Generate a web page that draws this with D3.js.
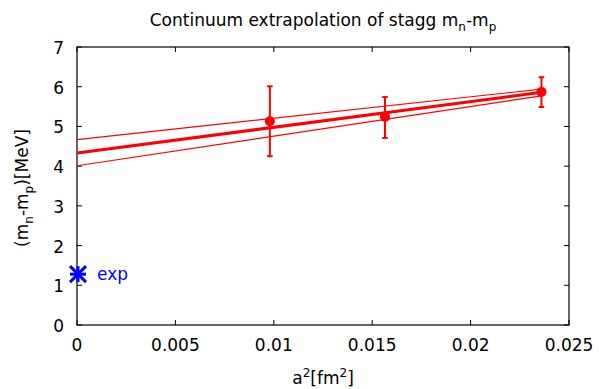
<!DOCTYPE html>
<html>
<head>
<meta charset="utf-8">
<script src="https://cdn.jsdelivr.net/npm/d3@7"></script>
<style>
body{margin:0;background:#fff;}
svg{display:block;font-family:"DejaVu Sans",sans-serif;}
</style>
</head>
<body>
<div id="chart"></div>
<script>
(function(){

const width = 599;
const height = 389;
const margin = {top:47,right:30,bottom:64,left:77};

// lattice points: a^2, value, error low/high
const a2 = [0.0098, 0.01565, 0.0236];
const mval = [5.13, 5.24, 5.87];
const errLo = [4.25, 4.71, 5.49];
const errHi = [6.01, 5.74, 6.24];

// fit line and error band (endpoints)
const fitX = [0, 0.0236];
const fitY = [4.33, 5.86];
const bandUp = [4.67, 5.94];
const bandLo = [4.01, 5.77];

// experimental value
const expX = [0];
const expY = [1.28];

const xTicks = [0, 0.005, 0.01, 0.015, 0.02, 0.025];
const xTickLabels = ["0","0.005","0.01","0.015","0.02","0.025"];
const yTicks = [0,1,2,3,4,5,6,7];

const svg = d3.select("#chart")
.append("svg")
.attr("width",width)
.attr("height",height);

const x = d3.scaleLinear()
.domain([0,0.025])
.range([margin.left,width-margin.right]);

const y = d3.scaleLinear()
.domain([0,7])
.range([height-margin.bottom,margin.top]);

const x0 = margin.left, x1 = width-margin.right;
const y0 = height-margin.bottom, y1 = margin.top;

// ticks (inward, mirrored)
const tl = 5;
const ticks = svg.append("g").attr("stroke","#000").attr("stroke-width",1);
xTicks.forEach(t=>{
ticks.append("line").attr("x1",x(t)).attr("x2",x(t)).attr("y1",y0).attr("y2",y0-tl);
ticks.append("line").attr("x1",x(t)).attr("x2",x(t)).attr("y1",y1).attr("y2",y1+tl);
});
yTicks.forEach(t=>{
ticks.append("line").attr("x1",x0).attr("x2",x0+tl).attr("y1",y(t)).attr("y2",y(t));
ticks.append("line").attr("x1",x1).attr("x2",x1-tl).attr("y1",y(t)).attr("y2",y(t));
});

// tick labels
svg.selectAll(".xl")
.data(xTicks)
.enter()
.append("text")
.attr("x",d=>x(d))
.attr("y",y0+26)
.attr("text-anchor","middle")
.attr("font-size","17px")
.text((d,i)=>xTickLabels[i]);

svg.selectAll(".yl")
.data(yTicks)
.enter()
.append("text")
.attr("x",x0-13)
.attr("y",d=>y(d)+7)
.attr("text-anchor","end")
.attr("font-size","17px")
.text(d=>d);

// border
svg.append("rect")
.attr("x",x0).attr("y",y1)
.attr("width",x1-x0).attr("height",y0-y1)
.attr("fill","none")
.attr("stroke","#000")
.attr("stroke-width",1.2);

const line = d3.line().x(d=>x(d[0])).y(d=>y(d[1]));

// band lines
svg.append("path")
.datum(fitX.map((d,i)=>[d,bandUp[i]]))
.attr("d",line).attr("fill","none").attr("stroke","#ff0000").attr("stroke-width",1.2);
svg.append("path")
.datum(fitX.map((d,i)=>[d,bandLo[i]]))
.attr("d",line).attr("fill","none").attr("stroke","#ff0000").attr("stroke-width",1.2);
// central fit
svg.append("path")
.datum(fitX.map((d,i)=>[d,fitY[i]]))
.attr("d",line).attr("fill","none").attr("stroke","#ff0000").attr("stroke-width",3);

// error bars
const eb = svg.append("g").attr("stroke","#ff0000").attr("stroke-width",2);
a2.forEach((d,i)=>{
eb.append("line").attr("x1",x(d)).attr("x2",x(d)).attr("y1",y(errLo[i])).attr("y2",y(errHi[i]));
eb.append("line").attr("x1",x(d)-2.8).attr("x2",x(d)+2.8).attr("y1",y(errLo[i])).attr("y2",y(errLo[i]));
eb.append("line").attr("x1",x(d)-2.8).attr("x2",x(d)+2.8).attr("y1",y(errHi[i])).attr("y2",y(errHi[i]));
});

svg.selectAll(".pt")
.data(a2)
.enter()
.append("circle")
.attr("cx",d=>x(d))
.attr("cy",(d,i)=>y(mval[i]))
.attr("r",5)
.attr("fill","#ff0000");

// exp star
const s = 8;
expX.forEach((d,i)=>{
const cx = x(d)+1, cy = y(expY[i]);
const g = svg.append("g").attr("stroke","#0000ff").attr("stroke-width",3);
g.append("line").attr("x1",cx-s).attr("x2",cx+s).attr("y1",cy).attr("y2",cy);
g.append("line").attr("x1",cx).attr("x2",cx).attr("y1",cy-s).attr("y2",cy+s);
g.append("line").attr("x1",cx-s).attr("x2",cx+s).attr("y1",cy-s).attr("y2",cy+s);
g.append("line").attr("x1",cx-s).attr("x2",cx+s).attr("y1",cy+s).attr("y2",cy-s);
svg.append("text")
.attr("x",cx+19)
.attr("y",cy+6)
.attr("font-size","17px")
.attr("fill","#0000ff")
.text("exp");
});

// title
const title = svg.append("text")
.attr("x",(x0+x1)/2)
.attr("y",26)
.attr("text-anchor","middle")
.attr("font-size","17px");
title.append("tspan").text("Continuum extrapolation of stagg m");
title.append("tspan").attr("font-size","12px").attr("dy",5).text("n");
title.append("tspan").attr("dy",-5).text("-m");
title.append("tspan").attr("font-size","12px").attr("dy",5).text("p");

// x label
const xl = svg.append("text")
.attr("x",(x0+x1)/2)
.attr("y",height-5)
.attr("text-anchor","middle")
.attr("font-size","17px");
xl.append("tspan").text("a");
xl.append("tspan").attr("font-size","12px").attr("dy",-7).text("2");
xl.append("tspan").attr("dy",7).text("[fm");
xl.append("tspan").attr("font-size","12px").attr("dy",-7).text("2");
xl.append("tspan").attr("dy",7).text("]");

// y label
const yl = svg.append("text")
.attr("transform",`translate(28,${(y0+y1)/2+2}) rotate(-90)`)
.attr("text-anchor","middle")
.attr("font-size","17px");
yl.append("tspan").text("(m");
yl.append("tspan").attr("font-size","12px").attr("dy",5).text("n");
yl.append("tspan").attr("dy",-5).text("-m");
yl.append("tspan").attr("font-size","12px").attr("dy",5).text("p");
yl.append("tspan").attr("dy",-5).text(")[MeV]");

})();
</script>
</body>
</html>
